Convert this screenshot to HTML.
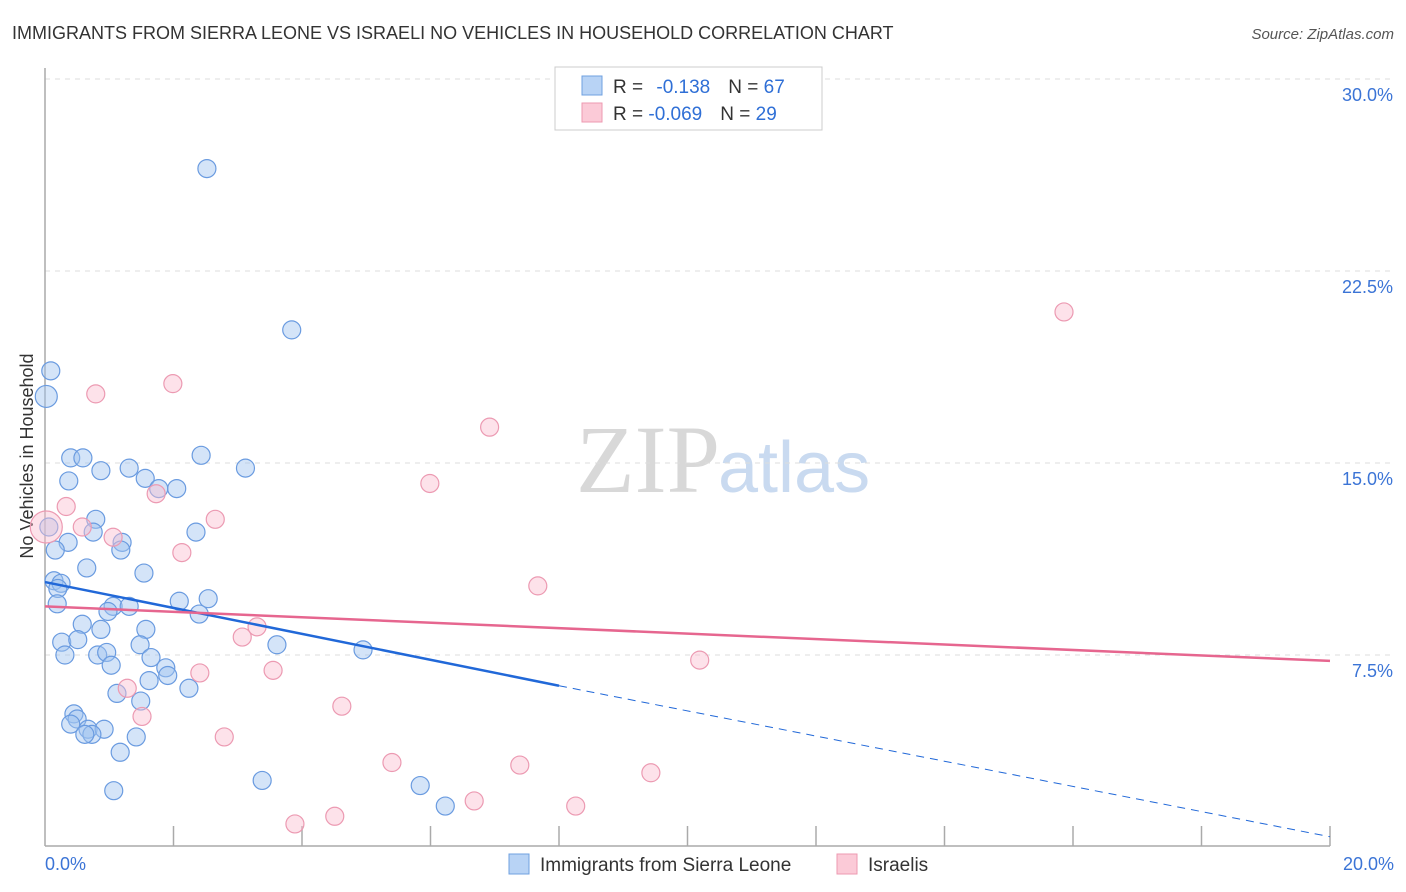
<!DOCTYPE html>
<html><head><meta charset="utf-8"><style>
body{margin:0;background:#fff;font-family:"Liberation Sans",sans-serif;}
#wrap{position:relative;width:1406px;height:892px;overflow:hidden;}
</style></head><body>
<div id="wrap">
<svg id="svg" width="1406" height="892" xmlns="http://www.w3.org/2000/svg">
<text x="12" y="39" font-size="18" fill="#333">IMMIGRANTS FROM SIERRA LEONE VS ISRAELI NO VEHICLES IN HOUSEHOLD CORRELATION CHART</text>
<text x="1394" y="39" font-size="15" fill="#555" font-style="italic" text-anchor="end">Source: ZipAtlas.com</text>
<text x="720" y="492" font-size="96" fill="#d8d8d8" text-anchor="end" font-family="Liberation Serif,serif">ZIP</text>
<text x="718" y="492" font-size="72" fill="#c9daf0">atlas</text>
<text transform="translate(33,456) rotate(-90)" font-size="18" fill="#333" text-anchor="middle">No Vehicles in Household</text>
<g id="grid"></g><g id="axes"></g><g id="pts"></g><g id="lines"></g>
<rect x="555" y="67" width="267" height="63" fill="#fff" stroke="#ccc"/>
<rect x="582" y="76" width="20" height="19" fill="#b8d3f5" stroke="#6fa0e0"/>
<rect x="582" y="103" width="20" height="19" fill="#fbcad7" stroke="#ee99b0"/>
<text x="613" y="93" font-size="19" fill="#333">R = <tspan fill="#2f6fd6" dx="8">-0.138</tspan><tspan fill="#333" dx="18">N = </tspan><tspan fill="#2f6fd6">67</tspan></text>
<text x="613" y="120" font-size="19" fill="#333">R = <tspan fill="#2f6fd6">-0.069</tspan><tspan fill="#333" dx="18">N = </tspan><tspan fill="#2f6fd6">29</tspan></text>
<rect x="509" y="854" width="20" height="20" fill="#b8d3f5" stroke="#6fa0e0"/>
<text x="540" y="871" font-size="19" fill="#333">Immigrants from Sierra Leone</text>
<rect x="837" y="854" width="20" height="20" fill="#fbcad7" stroke="#ee99b0"/>
<text x="868" y="871" font-size="19" fill="#333">Israelis</text>
</svg>
</div>
<script>
const yTicks=[7.5,15,22.5,30];
const yTickLabels=["7.5%","15.0%","22.5%","30.0%"];
const xTickLabels=["0.0%","20.0%"];
const blueX=[2.52,3.84,0.09,0.02,0.40,0.59,0.37,0.87,1.31,1.56,2.43,3.12,1.77,2.05,0.79,0.75,0.06,2.35,0.36,0.16,1.20,1.18,0.65,1.54,0.14,0.25,0.20,0.19,2.09,2.54,1.06,1.31,2.40,0.98,0.58,1.57,0.87,0.26,0.51,1.48,3.61,4.95,0.31,0.82,0.96,1.65,1.03,1.88,1.91,1.62,2.24,1.12,1.49,0.45,0.50,0.40,0.67,0.92,0.73,0.62,1.42,1.17,3.38,5.84,6.23,1.07];
const blueY=[26.5,20.2,18.6,17.6,15.2,15.2,14.3,14.7,14.8,14.4,15.3,14.8,14.0,14.0,12.8,12.3,12.5,12.3,11.9,11.6,11.9,11.6,10.9,10.7,10.4,10.3,10.1,9.5,9.6,9.7,9.4,9.4,9.1,9.2,8.7,8.5,8.5,8.0,8.1,7.9,7.9,7.7,7.5,7.5,7.6,7.4,7.1,7.0,6.7,6.5,6.2,6.0,5.7,5.2,5.0,4.8,4.6,4.6,4.4,4.4,4.3,3.7,2.6,2.4,1.6,2.2];
const pinkX=[15.86,1.99,0.79,6.92,5.99,1.73,0.33,0.58,0.02,1.06,2.13,2.65,7.67,3.30,3.07,10.19,2.41,3.55,1.28,1.51,4.62,2.79,5.40,7.39,9.43,6.68,8.26,4.51,3.89];
const pinkY=[20.9,18.1,17.7,16.4,14.2,13.8,13.3,12.5,12.5,12.1,11.5,12.8,10.2,8.6,8.2,7.3,6.8,6.9,6.2,5.1,5.5,4.3,3.3,3.2,2.9,1.8,1.6,1.2,0.9];
const NS="http://www.w3.org/2000/svg";
const X=v=>45+v/20*1285, Y=v=>847-v/7.5*192;
function mk(tag,attrs,parent){const e=document.createElementNS(NS,tag);for(const k in attrs)e.setAttribute(k,attrs[k]);document.getElementById(parent).appendChild(e);return e;}
yTicks.forEach((t,i)=>{
 const g=mk('line',{x1:45,x2:1395,y1:Y(t),y2:Y(t),stroke:'#ddd','stroke-dasharray':'5,5'},'grid');
 
 
 const l=mk('text',{x:1393,y:Y(t)+22,'font-size':18,fill:'#3b74d6','text-anchor':'end'},'grid');
 l.textContent=yTickLabels[i];
 
 
});
const ax=mk('line',{x1:45,x2:45,y1:68,y2:846,stroke:'#aaa','stroke-width':1.5},'axes');


const bx=mk('line',{x1:45,x2:1330,y1:846,y2:846,stroke:'#aaa','stroke-width':1.5},'axes');


for(let i=1;i<=10;i++){const t=mk('line',{x1:X(i*2),x2:X(i*2),y1:826,y2:846,stroke:'#aaa','stroke-width':1.5},'axes');
 
 }
[[0,45,'start'],[20,1394,'end']].forEach((a,i)=>{const t=mk('text',{x:a[1],y:870,'font-size':18,fill:'#3b74d6','text-anchor':a[2]},'axes');t.textContent=xTickLabels[i];
 
 });
blueX.forEach((v,i)=>{const c=mk('circle',{cx:X(v),cy:Y(blueY[i]),r:(v<0.05?11:9),fill:'rgba(160,195,240,0.45)',stroke:'#6a9be0','stroke-width':1.2},'pts');
 
 });
pinkX.forEach((v,i)=>{const c=mk('circle',{cx:X(v),cy:Y(pinkY[i]),r:(v<0.05?16:9),fill:'rgba(250,190,208,0.45)',stroke:'#ec9ab2','stroke-width':1.2},'pts');
 
 });
const l1=mk('line',{x1:X(0),y1:Y(10.35),x2:X(8.0),y2:Y(6.3),stroke:'#2168d8','stroke-width':2.5},'lines');


const l2=mk('line',{x1:X(8.0),y1:Y(6.3),x2:X(20),y2:Y(0.4),stroke:'#2168d8','stroke-width':1,'stroke-dasharray':'8,6'},'lines');


const l3=mk('line',{x1:X(0),y1:Y(9.4),x2:X(20),y2:Y(7.27),stroke:'#e6668f','stroke-width':2.5},'lines');


</script>
</body></html>
